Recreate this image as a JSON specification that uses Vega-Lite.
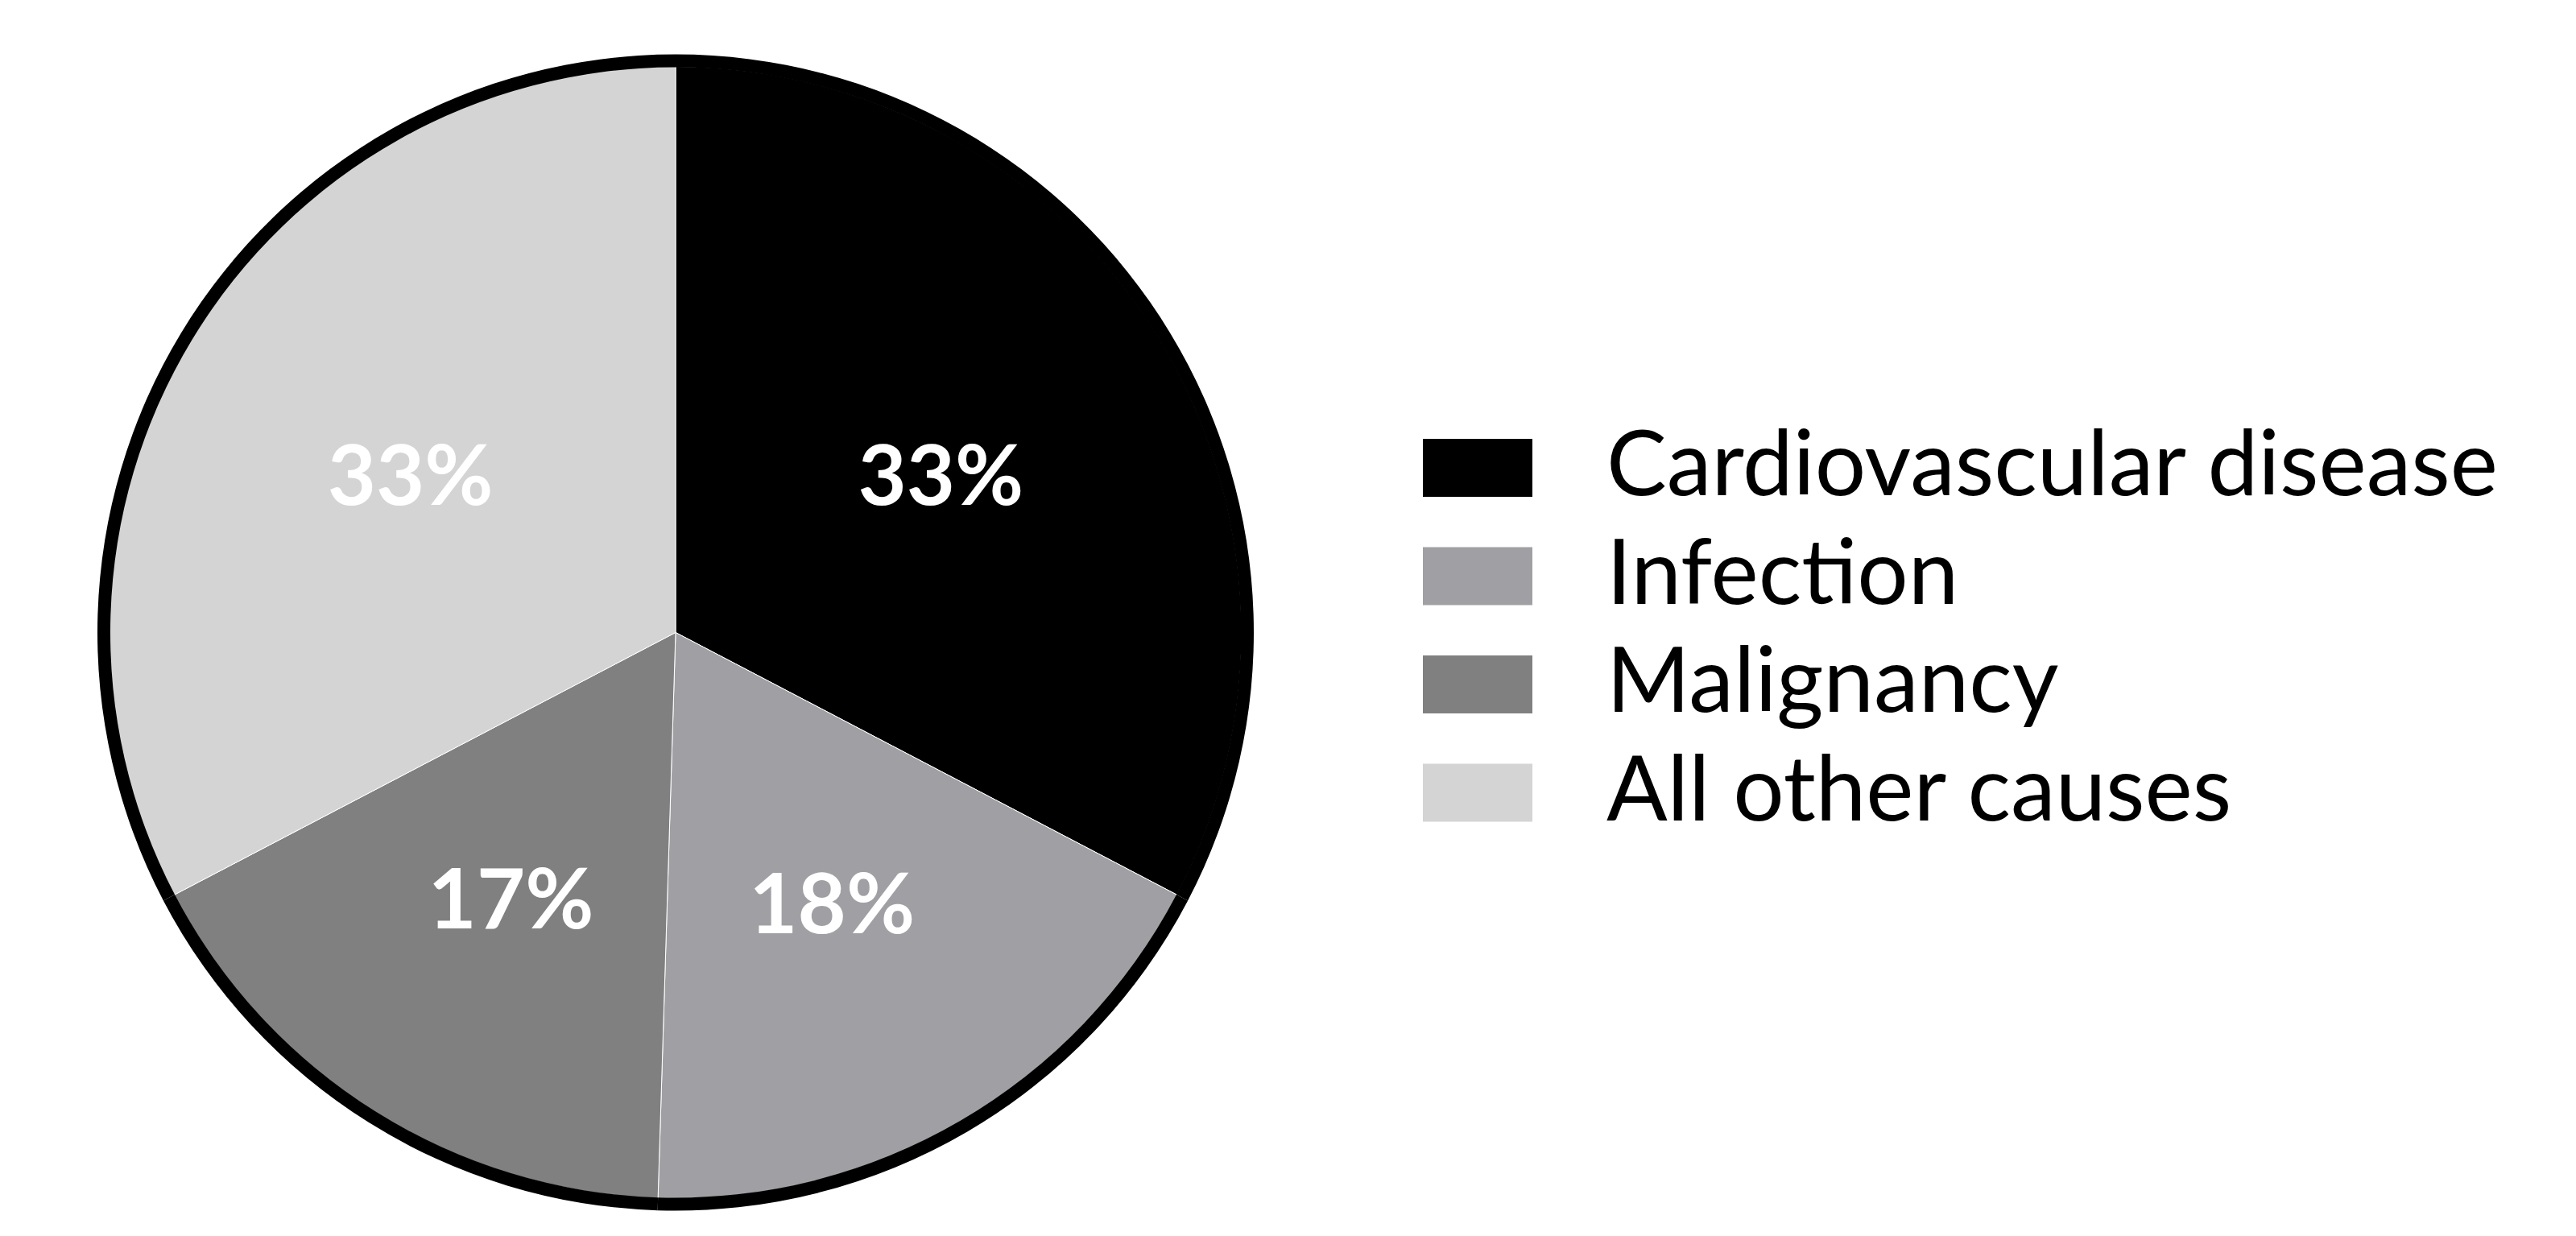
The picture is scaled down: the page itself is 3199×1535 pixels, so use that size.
{
  "$schema": "https://vega.github.io/schema/vega-lite/v6.json",
  "autosize": "none",
  "width": 1678,
  "height": 1499,
  "padding": {"left": 0, "top": 36, "right": 1521, "bottom": 0},
  "background": "#ffffff",
  "data": {"values": [
    {"cause": "Cardiovascular disease", "pct": 33, "label": "33%", "rank": 1},
    {"cause": "Infection", "pct": 18, "label": "18%", "rank": 2},
    {"cause": "Malignancy", "pct": 17, "label": "17%", "rank": 3},
    {"cause": "All other causes", "pct": 33, "label": "33%", "rank": 4}
  ]},
  "encoding": {
    "theta": {"field": "pct", "type": "quantitative", "stack": true},
    "order": {"field": "rank", "type": "quantitative"},
    "color": {
      "field": "cause", "type": "nominal",
      "scale": {
        "domain": ["Cardiovascular disease", "Infection", "Malignancy", "All other causes"],
        "range": ["#000000", "#a0a0a4", "#808080", "#d4d4d4"]
      },
      "legend": {
        "title": null,
        "orient": "none",
        "legendX": 1767,
        "legendY": 477,
        "padding": 0,
        "symbolType": "M-1,-0.53H1V0.53H-1Z",
        "symbolSize": 18496,
        "symbolStrokeWidth": 0,
        "labelFont": "Lato",
        "labelFontSize": 112,
        "labelColor": "#000000",
        "labelOffset": 92,
        "labelLimit": 2000,
        "rowPadding": 10.5,
        "symbolOpacity": 1
      }
    }
  },
  "layer": [
    {
      "mark": {"type": "arc", "outerRadius": 703, "stroke": "#ffffff", "strokeWidth": 1}
    },
    {
      "mark": {"type": "arc", "outerRadius": 718, "innerRadius": 702, "fill": "#000000", "stroke": null},
      "encoding": {"color": {"value": "#000000"}}
    },
    {
      "mark": {"type": "text", "radius": 385, "dy": 10, "font": "Lato", "fontWeight": "bold", "fontSize": 104, "baseline": "middle", "align": "center"},
      "encoding": {
        "text": {"field": "label", "type": "nominal"},
        "color": {"value": "#ffffff"},
        "detail": {"field": "cause", "type": "nominal"}
      }
    }
  ],
  "config": {"view": {"stroke": null}}
}
